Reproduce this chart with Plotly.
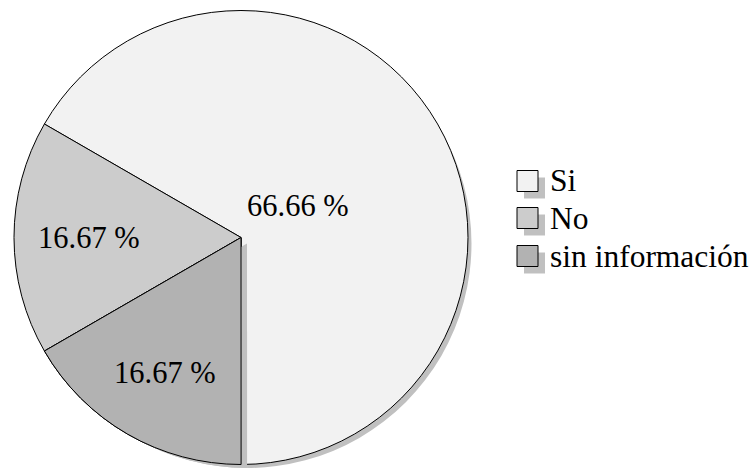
import plotly.graph_objects as go

labels = ["Si", "No", "sin información"]
values = [66.66, 16.67, 16.67]
colors = ["#f2f2f2", "#cccccc", "#b2b2b2"]
label_px = [(298, 206), (89, 238), (165, 373)]  # label anchor positions (px)

W, H = 754, 468
SHADOW = "#c0c0c0"
FONT = "Liberation Serif, Times New Roman, serif"

cx, cy, r = 241, 237.5, 227
main_dom = dict(x=[(cx - r) / W, (cx + r) / W], y=[1 - (cy + r) / H, 1 - (cy - r) / H])
scx, scy, sr = 247, 243.5, 224.5
sh_dom = dict(x=[(scx - sr) / W, (scx + sr) / W], y=[0, (2 * sr) / H])

# counterclockwise: first slice occupies [rotation, rotation + share] clockwise
common = dict(sort=False, direction="counterclockwise", rotation=-60,
              textinfo="none", hoverinfo="none", showlegend=False)
clear = "rgba(0,0,0,0)"

fig = go.Figure()
# whole-pie shadow
fig.add_trace(go.Pie(values=values, labels=labels, domain=sh_dom,
                     marker=dict(colors=[SHADOW] * 3, line=dict(width=0)), **common))
# main pie
fig.add_trace(go.Pie(values=values, labels=labels, domain=main_dom,
                     marker=dict(colors=colors, line=dict(color="#000000", width=1)), **common))
# shadow of last slice cast onto the first slice
fig.add_trace(go.Pie(values=values, labels=labels, domain=sh_dom,
                     marker=dict(colors=[clear, clear, SHADOW], line=dict(width=0)), **common))
# last slice redrawn on top
fig.add_trace(go.Pie(values=values, labels=labels, domain=main_dom,
                     marker=dict(colors=[clear, clear, colors[2]],
                                 line=dict(color="#000000", width=[0, 0, 1])), **common))

annotations = []
for v, (px, py) in zip(values, label_px):
    annotations.append(dict(x=px / W, y=1 - py / H, xref="paper", yref="paper",
                            text=f"{v:.2f} %", showarrow=False, xanchor="center",
                            yanchor="middle", font=dict(family=FONT, size=30.5, color="#000")))

# legend (boxes with shadow + text)
shapes = []
leg_x0, box, rows = 517, 21, [181, 218, 256]
for lab, col, ry in zip(labels, colors, rows):
    shapes.append(dict(type="rect", xref="paper", yref="paper",
                       x0=(leg_x0 + 7) / W, x1=(leg_x0 + 7 + box) / W,
                       y0=1 - (ry + 7 + box / 2) / H, y1=1 - (ry + 7 - box / 2) / H,
                       fillcolor=SHADOW, line=dict(width=0)))
    shapes.append(dict(type="rect", xref="paper", yref="paper",
                       x0=leg_x0 / W, x1=(leg_x0 + box) / W,
                       y0=1 - (ry + box / 2) / H, y1=1 - (ry - box / 2) / H,
                       fillcolor=col, line=dict(color="#000000", width=1)))
    annotations.append(dict(x=548 / W, y=1 - ry / H, xref="paper", yref="paper",
                            text=lab, showarrow=False, xanchor="left", yanchor="middle",
                            font=dict(family=FONT, size=31.5, color="#000")))

fig.update_layout(width=W, height=H, margin=dict(l=0, r=0, t=0, b=0),
                  paper_bgcolor="white", plot_bgcolor="white",
                  annotations=annotations, shapes=shapes, showlegend=False)

fig.write_html("out.html", config={"displayModeBar": False},
               post_script="document.body.style.margin='0';document.body.style.overflow='hidden';")
